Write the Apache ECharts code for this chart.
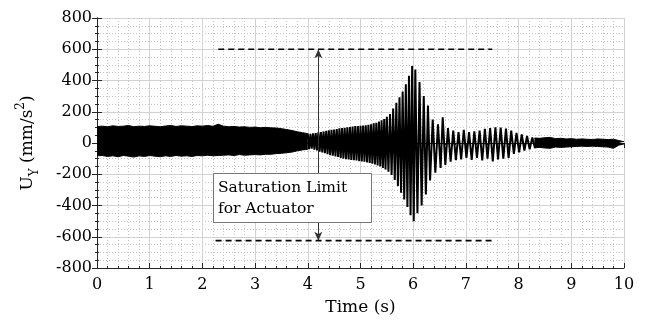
<!DOCTYPE html>
<html>
<head>
<meta charset="utf-8">
<script src="https://cdn.jsdelivr.net/npm/echarts@6/dist/echarts.min.js"></script>
<style>
html, body { margin: 0; padding: 0; background: #fff; }
#main { width: 647px; height: 320px; }
</style>
</head>
<body>
<div id="main"></div>
<script>
// dense part of the signal (0 - 4 s): read as upper / lower edge of the black band
var headT  = [0.0,0.1,0.2,0.3,0.4,0.5,0.6,0.7,0.8,0.9,1.0,1.1,1.2,1.3,1.4,1.5,1.6,1.7,1.8,1.9,2.0,
              2.1,2.2,2.3,2.4,2.5,2.6,2.7,2.8,2.9,3.0,3.1,3.2,3.3,3.4,3.5,3.6,3.7,3.8,3.9,4.0];
var headUp = [105,108,104,110,106,108,112,104,108,106,110,107,104,109,112,106,110,108,105,110,108,
              112,107,120,108,104,106,102,104,100,102,98,100,97,96,92,86,80,72,66,60];
var headLo = [-82,-80,-86,-82,-88,-80,-84,-90,-82,-86,-80,-84,-88,-82,-86,-80,-84,-82,-86,-80,-82,
              -78,-82,-80,-78,-76,-80,-74,-78,-76,-74,-76,-72,-72,-68,-66,-62,-58,-50,-44,-40];

// visible oscillation (4 - 8.4 s): peaks and troughs
var oscT = [4.000,4.025,4.050,4.075,4.100,4.125,4.150,4.175,4.200,4.225,4.250,4.275,4.300,4.325,4.350,4.375,
            4.400,4.425,4.450,4.475,4.500,4.525,4.550,4.575,4.600,4.625,4.650,4.675,4.700,4.725,4.750,4.775,
            4.800,4.825,4.850,4.875,4.900,4.925,4.950,4.975,5.000,5.025,5.050,5.075,5.100,5.125,5.150,5.175,
            5.200,5.225,5.250,5.275,5.300,5.325,5.350,5.375,5.400,5.425,5.450,5.475,5.500,
            5.53,5.56,5.59,5.62,5.65,5.68,5.71,5.74,5.77,5.80,5.83,5.86,5.89,5.92,5.95,5.98,6.01,
            6.04,6.08,6.12,6.16,6.20,6.24,6.28,6.32,6.37,6.42,6.47,6.52,6.56,6.61,6.66,6.71,6.76,6.81,6.86,6.91,
            6.96,7.01,7.06,7.11,7.16,7.21,7.26,7.31,7.36,7.41,7.46,7.51,7.56,7.61,7.66,7.71,7.76,7.81,7.86,7.91,
            7.96,8.01,8.06,8.11,8.16,8.21,8.26,8.31,8.36];
var oscV = [60,-40,58,-36,62,-42,64,-48,68,-56,70,-60,74,-66,78,-72,
            82,-78,84,-82,86,-86,90,-90,94,-95,96,-100,98,-104,100,-106,
            102,-108,106,-110,108,-112,108,-116,110,-118,112,-120,114,-124,116,-128,
            120,-132,126,-138,130,-144,138,-150,146,-160,154,-170,168,
            -184,186,-204,220,-236,258,-276,292,-318,330,-362,376,-410,430,-462,492,-500,
            470,-450,390,-400,300,-330,240,-240,150,-190,120,-160,165,-140,95,-120,80,-110,70,-105,
            85,-95,70,-108,75,-95,80,-112,90,-100,95,-118,100,-105,98,-100,92,-96,80,-70,
            65,-60,55,-48,45,-40,36,-32,30];

// settled tail (8.3 - 10 s)
var tailT  = [8.3,8.4,8.5,8.6,8.7,8.8,8.9,9.0,9.1,9.2,9.3,9.4,9.5,9.6,9.7,9.8,9.9,10.0];
var tailUp = [32,30,34,36,28,30,26,28,24,26,24,22,26,24,22,24,16,8];
var tailLo = [-30,-28,-32,-34,-26,-28,-26,-24,-22,-20,-22,-20,-22,-24,-26,-34,-14,-6];

// saturation limits
var limT = [2.3, 7.5];
var limUp = [600, 600];
var limLoT = [2.25, 7.5];
var limLo = [-625, -625];
var arrowT = 4.2;

var xTicks = [0, 10, 1];
var yTicks = [-800, 800, 200];

function pairs(t, v) {
  return t.map(function (x, i) { return [x, v[i]]; });
}

var myChart = echarts.init(document.getElementById('main'), null, { renderer: 'canvas' });

var FONT = 'DejaVu Serif';
var axisCol = '#262626';

function bandSeries(t, v) {
  return {
    type: 'line', data: pairs(t, v), showSymbol: false, silent: true,
    lineStyle: { color: '#000', width: 1 },
    areaStyle: { color: '#000', opacity: 1 },
    z: 3
  };
}

var option = {
  animation: false,
  textStyle: { fontFamily: FONT },
  grid: { left: 97, right: 23, top: 18, bottom: 52, containLabel: false, outerBoundsMode: 'none' },
  xAxis: [
    {
      type: 'value', min: xTicks[0], max: xTicks[1], interval: xTicks[2],
      name: 'Time (s)', nameLocation: 'middle', nameGap: 31,
      nameTextStyle: { fontFamily: FONT, fontSize: 17, color: '#000' },
      axisLine: { onZero: false, lineStyle: { color: axisCol, width: 1 } },
      axisTick: { inside: true, length: 5, lineStyle: { color: axisCol } },
      minorTick: { show: true, splitNumber: 5, length: 2, lineStyle: { color: axisCol } },
      axisLabel: { fontFamily: FONT, fontSize: 16, color: '#000', margin: 9 },
      splitLine: { show: true, lineStyle: { color: '#d2d2d2', width: 1 } },
      minorSplitLine: { show: true, lineStyle: { color: '#c4c4c4', width: 1, type: [1, 2] } }
    },
    {
      type: 'value', position: 'top', min: xTicks[0], max: xTicks[1], interval: xTicks[2],
      axisLine: { show: true, lineStyle: { color: axisCol, width: 1 } },
      axisTick: { inside: true, length: 5, lineStyle: { color: axisCol } },
      minorTick: { show: true, splitNumber: 5, length: 2, lineStyle: { color: axisCol } },
      axisLabel: { show: false },
      splitLine: { show: false }
    }
  ],
  yAxis: [
    {
      type: 'value', min: yTicks[0], max: yTicks[1], interval: yTicks[2],
      name: '{n|U}{sub|Y}{n| (mm/s}{sup|2}{n|)}',
      nameLocation: 'middle', nameGap: 56, nameRotate: 90,
      nameTextStyle: {
        fontFamily: FONT, fontSize: 17, color: '#000',
        rich: {
          n: { fontFamily: FONT, fontSize: 17, lineHeight: 26 },
          sub: { fontFamily: FONT, fontSize: 12, lineHeight: 12, verticalAlign: 'bottom' },
          sup: { fontFamily: FONT, fontSize: 12, lineHeight: 12, verticalAlign: 'top' }
        }
      },
      axisLine: { show: true, onZero: false, lineStyle: { color: axisCol, width: 1 } },
      axisTick: { show: true, inside: true, length: 5, lineStyle: { color: axisCol } },
      minorTick: { show: true, splitNumber: 4, length: 2, lineStyle: { color: axisCol } },
      axisLabel: { fontFamily: FONT, fontSize: 16, color: '#000', margin: 5 },
      splitLine: { show: true, lineStyle: { color: '#d2d2d2', width: 1 } },
      minorSplitLine: { show: true, lineStyle: { color: '#c4c4c4', width: 1, type: [1, 2] } }
    },
    {
      type: 'value', position: 'right', min: yTicks[0], max: yTicks[1], interval: yTicks[2],
      axisLine: { show: true, lineStyle: { color: axisCol, width: 1 } },
      axisTick: { show: true, inside: true, length: 5, lineStyle: { color: axisCol } },
      minorTick: { show: true, splitNumber: 4, length: 2, lineStyle: { color: axisCol } },
      axisLabel: { show: false },
      splitLine: { show: false }
    }
  ],
  series: [
    bandSeries(headT, headUp),
    bandSeries(headT, headLo),
    bandSeries(tailT, tailUp),
    bandSeries(tailT, tailLo),
    {
      type: 'line', data: pairs(oscT, oscV), showSymbol: false, silent: true,
      lineStyle: { color: '#000', width: 2 }, z: 4
    },
    {
      type: 'line', data: pairs(limT, limUp), showSymbol: false, silent: true,
      lineStyle: { color: '#000', width: 1.6, type: [6, 4] }, z: 5
    },
    {
      type: 'line', data: pairs(limLoT, limLo), showSymbol: false, silent: true,
      lineStyle: { color: '#000', width: 1.6, type: [6, 4] }, z: 5,
      markLine: {
        silent: true, symbol: ['arrow', 'arrow'], symbolSize: [6, 9],
        lineStyle: { color: '#333', width: 1, type: 'solid' },
        label: { show: false },
        data: [[{ coord: [arrowT, limLo[0]] }, { coord: [arrowT, limUp[0]] }]]
      }
    }
  ]
};

myChart.setOption(option);

// annotation box
var p1 = myChart.convertToPixel({ xAxisIndex: 0, yAxisIndex: 0 }, [2.2, -192]);
var p2 = myChart.convertToPixel({ xAxisIndex: 0, yAxisIndex: 0 }, [5.2, -506]);
myChart.setOption({
  graphic: [
    {
      type: 'rect', z: 100,
      shape: { x: Math.round(p1[0]) + 0.5, y: Math.round(p1[1]) + 0.5, width: Math.round(p2[0] - p1[0]), height: Math.round(p2[1] - p1[1]) },
      style: { fill: '#fff', stroke: '#777', lineWidth: 1 }
    },
    {
      type: 'text', z: 101, x: p1[0] + 5, y: p1[1] + 4,
      style: { text: 'Saturation Limit\nfor Actuator', fontFamily: FONT, fontSize: 15.5, fill: '#000', lineHeight: 21 }
    }
  ]
});

window.onresize = function () { myChart.resize(); };
</script>
</body>
</html>
